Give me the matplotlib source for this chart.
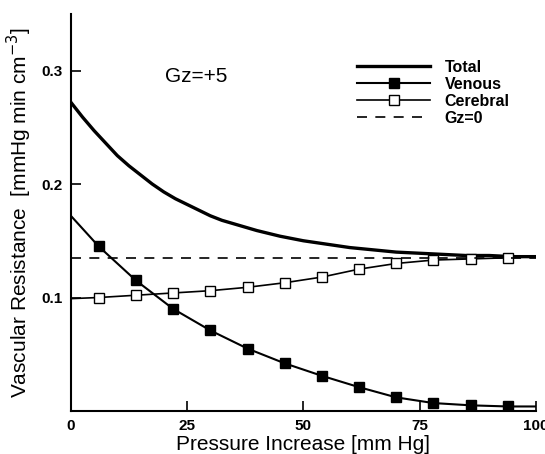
import matplotlib
matplotlib.use("Agg")
import matplotlib.pyplot as plt

# ---- data ----
total_x = [0, 2.5, 5, 7.5, 10, 12.5, 15, 17.5, 20, 22.5, 25, 27.5, 30, 32.5, 35, 37.5, 40,
           45, 50, 55, 60, 65, 70, 75, 80, 85, 90, 95, 100]
total_y = [0.272, 0.259, 0.247, 0.236, 0.225, 0.216, 0.208, 0.200, 0.193, 0.187, 0.182,
           0.177, 0.172, 0.168, 0.165, 0.162, 0.159, 0.154, 0.150, 0.147, 0.144, 0.142,
           0.140, 0.139, 0.138, 0.137, 0.137, 0.136, 0.136]

line_x = [0, 6, 14, 22, 30, 38, 46, 54, 62, 70, 78, 86, 94, 100]
venous_y = [0.172, 0.145, 0.115, 0.090, 0.071, 0.055, 0.042, 0.031, 0.021, 0.012, 0.007, 0.005, 0.004, 0.004]
cerebral_y = [0.099, 0.100, 0.102, 0.104, 0.106, 0.109, 0.113, 0.118, 0.125, 0.130, 0.133, 0.134, 0.135, 0.136]

gz0_value = 0.135

x_ticks = [0, 25, 50, 75, 100]
y_ticks = [0.1, 0.2, 0.3]
y_tick_labels = ["0.1", "0.2", "0.3"]

plt.rcParams['font.family'] = ['Liberation Sans', 'DejaVu Sans']

fig = plt.figure(figsize=(5.45, 4.54), dpi=100)
ax = fig.add_axes([0.130, 0.0947, 0.853, 0.875])

ax.plot(total_x, total_y, color='black', lw=2.4, label='Total')
ax.plot(line_x, venous_y, color='black', lw=1.5, marker='s', ms=7.5,
        markerfacecolor='black', markevery=slice(1, -1), label='Venous')
ax.plot(line_x, cerebral_y, color='black', lw=1.2, marker='s', ms=7.5,
        markerfacecolor='white', markeredgewidth=1.0, markevery=slice(1, -1), label='Cerebral')
ax.plot([0, 100], [gz0_value, gz0_value], color='black', lw=1.2, ls=(0, (6, 5)), label='Gz=0')

ax.set_xlim(0, 100)
ax.set_ylim(0, 0.35)
ax.set_xticks(x_ticks)
ax.set_yticks(y_ticks)
ax.set_yticklabels(y_tick_labels)
ax.tick_params(direction='in', length=7, width=1.2, labelsize=11, pad=6)
for lab in ax.get_xticklabels() + ax.get_yticklabels():
    lab.set_fontweight('bold')

for s in ['top', 'right']:
    ax.spines[s].set_visible(False)
for s in ['left', 'bottom']:
    ax.spines[s].set_linewidth(1.5)

ax.set_xlabel('Pressure Increase [mm Hg]', fontsize=15, labelpad=1)
ax.set_ylabel('Vascular Resistance  [mmHg min cm$^{-3}$]', fontsize=15, labelpad=5)

ax.text(27, 0.295, 'Gz=+5', fontsize=15, ha='center', va='center')

leg = ax.legend(loc='upper right', bbox_to_anchor=(0.975, 0.92), frameon=False,
                prop={'size': 11.5, 'weight': 'bold'},
                handlelength=4.6, handletextpad=0.9, labelspacing=0.12,
                numpoints=1)

fig.savefig('out.png', dpi=100)
